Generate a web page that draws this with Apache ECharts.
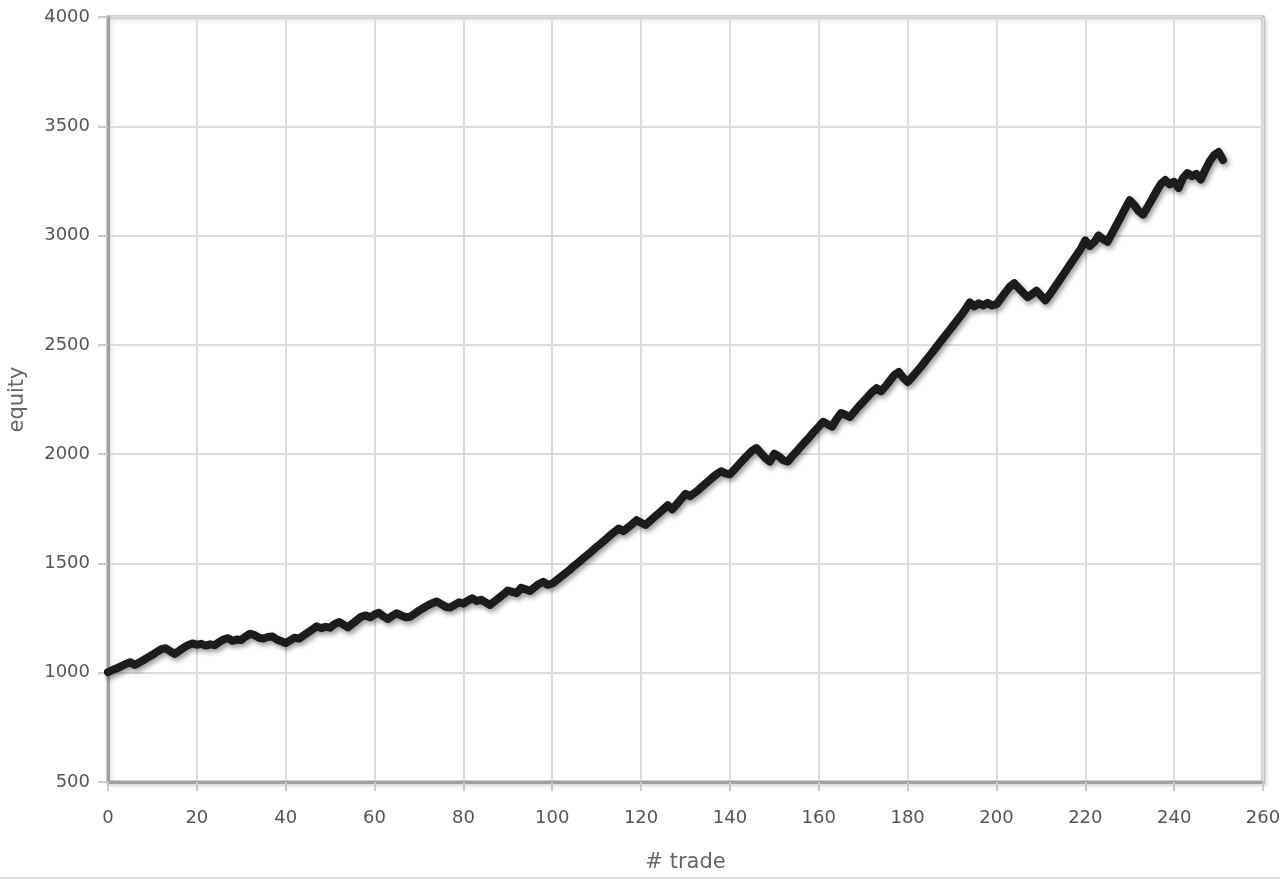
<!DOCTYPE html>
<html>
<head>
<meta charset="utf-8">
<script src="https://cdn.jsdelivr.net/npm/echarts@6/dist/echarts.min.js"></script>
<style>
html,body{margin:0;padding:0;background:#fff;}
#chart{width:1280px;height:880px;}
</style>
</head>
<body>
<div id="chart"></div>
<script>
// equity value after each trade (trade number = position in the array)
const equity = [
1003,1012,1020,1030,1040,1048,1036,1046,1058,1070,
1082,1095,1108,1112,1098,1086,1100,1114,1126,1134,
1128,1132,1124,1130,1126,1140,1152,1158,1146,1152,
1150,1166,1178,1172,1160,1156,1164,1166,1152,1144,
1136,1148,1160,1156,1170,1184,1198,1212,1204,1210,
1206,1222,1232,1220,1208,1224,1240,1256,1262,1254,
1266,1274,1258,1246,1260,1272,1262,1254,1256,1270,
1284,1296,1308,1318,1326,1314,1302,1298,1310,1322,
1316,1330,1340,1328,1334,1322,1310,1326,1342,1358,
1376,1370,1364,1388,1382,1374,1390,1406,1416,1402,
1408,1424,1440,1456,1472,1490,1506,1524,1540,1558,
1576,1592,1610,1628,1644,1660,1648,1664,1680,1698,
1686,1676,1694,1712,1730,1748,1766,1748,1770,1794,
1818,1808,1822,1838,1856,1874,1892,1908,1922,1912,
1908,1930,1952,1974,1996,2016,2028,2004,1982,1966,
2002,1990,1972,1966,1990,2012,2036,2058,2080,2104,
2126,2148,2136,2126,2160,2188,2180,2170,2194,2218,
2240,2262,2284,2302,2288,2310,2336,2362,2376,2350,
2330,2352,2376,2400,2426,2452,2478,2504,2530,2556,
2582,2608,2634,2662,2694,2676,2690,2680,2692,2680,
2686,2712,2740,2766,2782,2760,2738,2718,2732,2748,
2726,2704,2730,2760,2790,2820,2850,2880,2910,2940,
2978,2952,2970,3000,2984,2972,3010,3048,3086,3124,
3162,3140,3112,3096,3130,3166,3202,3236,3254,3234,
3246,3218,3264,3286,3272,3282,3256,3300,3340,3368,
3382,3346
];
const xAxisName = '# trade';
const yAxisName = 'equity';
const xTicks = [0,20,40,60,80,100,120,140,160,180,200,220,240,260];
const yTicks = [500,1000,1500,2000,2500,3000,3500,4000];

const points = equity.map((v, i) => [i, v]);
const FONT = 'DejaVu Sans';

const chart = echarts.init(document.getElementById('chart'), null, {renderer: 'canvas'});
chart.setOption({
  animation: false,
  backgroundColor: '#fff',
  grid: {
    left: 108, right: 17, top: 17, bottom: 98,
    containLabel: false,
    outerBoundsMode: 'none',
    show: true, borderColor: '#a8a8a8', borderWidth: 3,
    shadowColor: 'rgba(0,0,0,0.15)', shadowBlur: 4, shadowOffsetX: 2, shadowOffsetY: 2,
    backgroundColor: '#fff'
  },
  xAxis: {
    type: 'value',
    min: xTicks[0], max: xTicks[xTicks.length - 1], interval: 20,
    name: xAxisName, nameLocation: 'middle', nameGap: 70,
    nameTextStyle: {color: '#666', fontSize: 21, fontFamily: FONT},
    axisLine: {show: true, lineStyle: {color: '#a0a0a0', width: 3}},
    axisTick: {show: true, length: 9, lineStyle: {color: '#c8c8c8', width: 2}},
    axisLabel: {color: '#555', fontSize: 18, fontFamily: FONT, margin: 27,
      formatter: v => String(v)},
    splitLine: {show: true, lineStyle: {color: '#dcdcdc', width: 2}}
  },
  yAxis: {
    type: 'value',
    min: yTicks[0], max: yTicks[yTicks.length - 1], interval: 500,
    name: yAxisName, nameLocation: 'middle', nameGap: 80, nameRotate: 90,
    nameTextStyle: {color: '#666', fontSize: 21, fontFamily: FONT},
    axisLine: {show: true, lineStyle: {color: '#a0a0a0', width: 3}},
    axisTick: {show: true, length: 10, lineStyle: {color: '#c8c8c8', width: 2}},
    axisLabel: {color: '#555', fontSize: 18, fontFamily: FONT, margin: 18,
      formatter: v => String(v)},
    splitLine: {show: true, lineStyle: {color: '#dcdcdc', width: 2}}
  },
  graphic: [{
    type: 'line', silent: true,
    shape: {x1: 0, y1: 878, x2: 1280, y2: 878},
    style: {stroke: '#dddddd', lineWidth: 2}
  }],
  series: [{
    type: 'line',
    data: points,
    showSymbol: false,
    symbol: 'none',
    smooth: false,
    lineStyle: {
      color: '#1c1c1c', width: 8, join: 'round', cap: 'round',
      shadowColor: 'rgba(0,0,0,0.4)', shadowBlur: 5, shadowOffsetX: 2, shadowOffsetY: 3
    }
  }]
});
</script>
</body>
</html>
